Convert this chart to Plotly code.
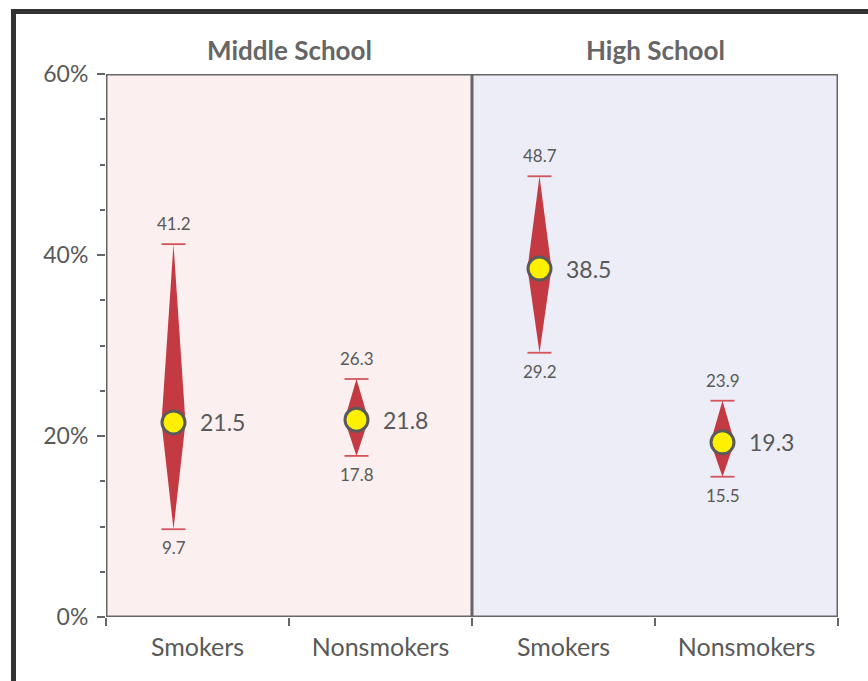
import plotly.graph_objects as go

# Survey estimates (percent) with lower / upper interval bounds
panels = ["Middle School", "High School"]
categories = ["Smokers", "Nonsmokers", "Smokers", "Nonsmokers"]
means = [21.5, 21.8, 38.5, 19.3]
lower = [9.7, 17.8, 29.2, 15.5]
upper = [41.2, 26.3, 48.7, 23.9]
y_ticks = [0, 20, 40, 60]
y_tick_text = ["0%", "20%", "40%", "60%"]

FONT = "Lato"
TXT = "#595959"
DIAMOND = "#c33a43"
WHISKER = "#d4545d"

PLOT_W = 732  # px width of plotting area
px_per_unit = PLOT_W / 4
offset = -24 / px_per_unit      # markers sit slightly left of category centre
half_w = 12 / px_per_unit       # diamond half-width
cap_w = 12 / px_per_unit        # whisker cap half-width

fig = go.Figure()

centers = [i + 0.5 for i in range(len(categories))]
xs = [c + offset for c in centers]

for x, m, lo, hi in zip(xs, means, lower, upper):
    # diamond spanning the interval, widest at the estimate
    fig.add_trace(go.Scatter(
        x=[x, x + half_w, x, x - half_w, x],
        y=[hi, m, lo, m, hi],
        mode="lines", fill="toself", fillcolor=DIAMOND,
        line=dict(width=0, color=DIAMOND), hoverinfo="skip", showlegend=False))
    # whisker caps
    for v in (lo, hi):
        fig.add_trace(go.Scatter(
            x=[x - cap_w, x + cap_w], y=[v, v], mode="lines",
            line=dict(color=WHISKER, width=1.8), hoverinfo="skip", showlegend=False))

fig.add_trace(go.Scatter(
    x=xs, y=means, mode="markers",
    marker=dict(size=23, color="#fff000", line=dict(color="#5a5a5a", width=3)),
    showlegend=False, hoverinfo="skip"))

annotations = []
for x, m, lo, hi in zip(xs, means, lower, upper):
    annotations.append(dict(x=x, y=m, text=f"{m:.1f}", showarrow=False,
                            xanchor="left", yanchor="middle", xshift=24,
                            font=dict(size=23, color=TXT, family=FONT)))
    annotations.append(dict(x=x, y=hi, text=f"{hi:.1f}", showarrow=False,
                            xanchor="center", yanchor="bottom", yshift=8,
                            font=dict(size=17, color=TXT, family=FONT)))
    annotations.append(dict(x=x, y=lo, text=f"{lo:.1f}", showarrow=False,
                            xanchor="center", yanchor="top", yshift=-6,
                            font=dict(size=17, color=TXT, family=FONT)))

for i, p in enumerate(panels):
    annotations.append(dict(x=0.25 + 0.5 * i, y=1, xref="paper", yref="paper",
                            text=f"<b>{p}</b>", showarrow=False,
                            xanchor="center", yanchor="middle",
                            yshift=24, font=dict(size=26, color="#666666", family=FONT)))

shapes = [
    dict(type="rect", x0=0, x1=2, y0=0, y1=60, xref="x", yref="y",
         fillcolor="#fbf0ef", line=dict(width=0), layer="below"),
    dict(type="rect", x0=2, x1=4, y0=0, y1=60, xref="x", yref="y",
         fillcolor="#ecedf6", line=dict(width=0), layer="below"),
    dict(type="rect", x0=0, x1=4, y0=0, y1=60, xref="x", yref="y",
         fillcolor="rgba(0,0,0,0)", line=dict(width=3, color="#666666"), layer="above"),
    dict(type="line", x0=2, x1=2, y0=0, y1=60, xref="x", yref="y",
         line=dict(width=3, color="#666666"), layer="above"),
    # outer dark frame
    dict(type="rect", xref="paper", yref="paper",
         x0=(13.5 - 106) / PLOT_W, x1=1.2, y0=-0.3, y1=1 + (74 - 11.5) / 543,
         fillcolor="rgba(0,0,0,0)", line=dict(width=5, color="#333333"), layer="above"),
]

fig.update_layout(
    width=868, height=681,
    margin=dict(l=106, r=30, t=74, b=64),
    paper_bgcolor="white", plot_bgcolor="white",
    font=dict(family=FONT, color=TXT),
    shapes=shapes, annotations=annotations,
    xaxis=dict(range=[0, 4], tickvals=centers, ticktext=categories,
               ticks="", showgrid=False, zeroline=False, showline=False,
               tickfont=dict(size=25, color=TXT, family=FONT), ticklabelstandoff=13,
               minor=dict(tickvals=[0, 1, 2, 3, 4], ticks="outside", ticklen=8,
                          tickcolor="#666666", tickwidth=2, showgrid=False)),
    yaxis=dict(range=[0, 60], tickvals=y_ticks, ticktext=y_tick_text,
               ticks="outside", ticklen=8, tickcolor="#666666", tickwidth=2,
               showgrid=False, zeroline=False, showline=False,
               tickfont=dict(size=23, color=TXT, family=FONT), ticklabelstandoff=4,
               minor=dict(dtick=5, ticks="outside", ticklen=5, tickcolor="#666666",
                          tickwidth=1.5, showgrid=False)),
)

fig.write_html("out.html")
